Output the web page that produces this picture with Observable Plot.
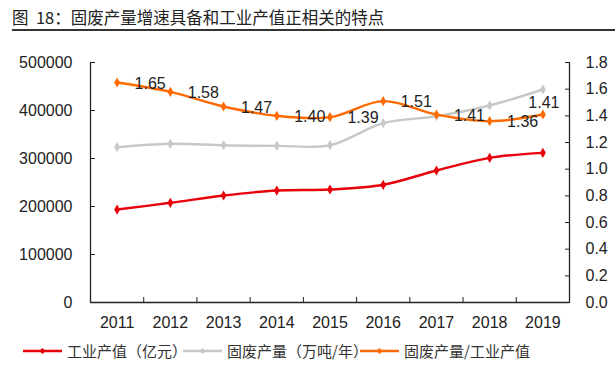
<!DOCTYPE html>
<html>
<head>
<meta charset="utf-8">
<script src="https://cdn.jsdelivr.net/npm/d3@7"></script>
<script src="https://cdn.jsdelivr.net/npm/@observablehq/plot@0.6"></script>
<style>
  body { margin: 0; background: #fff; font-family: "Liberation Sans", Arial, "Noto Sans CJK SC", sans-serif; }
  #wrap { position: relative; width: 615px; height: 365px; overflow: hidden; }
  #title { position: absolute; left: 12px; top: 0; width: 603px; height: 31px; border-bottom: 2px solid #333;
           font-size: 16.5px; line-height: 20px; padding-top: 7px; box-sizing: border-box; color: #222;
           font-family: "Noto Sans CJK SC", "Liberation Sans", sans-serif; white-space: nowrap; }
  #chart { position: absolute; left: 0; top: 38px; }
  #legend { position: absolute; top: 341px; left: 0; width: 615px; height: 20px; font-size: 15px; color: #333;
            font-family: "Noto Sans CJK SC", sans-serif; white-space: nowrap; }
  .item { position: absolute; top: 0; height: 20px; line-height: 20px; display: flex; align-items: center; }
  .item svg { margin-right: 5px; }
</style>
</head>
<body>
<div id="wrap">
  <div id="title">图&nbsp; 18：固废产量增速具备和工业产值正相关的特点</div>
  <div id="chart"></div>
  <div id="legend"></div>
</div>
<script>
const years = [2011, 2012, 2013, 2014, 2015, 2016, 2017, 2018, 2019];
const industry = [193700, 207700, 222900, 233300, 235400, 245200, 275000, 301400, 311800];
const waste = [323500, 330600, 327700, 326400, 327700, 373600, 388100, 410400, 443750];
const ratio = [1.65, 1.58, 1.47, 1.40, 1.39, 1.51, 1.41, 1.36, 1.41];
const leftTicks = [0, 100000, 200000, 300000, 400000, 500000];
const rightTicks = [0, 0.2, 0.4, 0.6, 0.8, 1.0, 1.2, 1.4, 1.6, 1.8];
const seriesNames = ["工业产值（亿元）", "固废产量（万吨/年）", "固废产量/工业产值"];
const colors = ["#e8000b", "#c8c8c8", "#ff6a00"];

const K = 500000 / 1.8;
const xDomain = [years[0] - 0.5, years[years.length - 1] + 0.5];
const boundaries = years.slice(0, -1).map(y => y + 0.5);

const rows = years.map((y, i) => ({year: y, industry: industry[i], waste: waste[i], ratio: ratio[i], ratioScaled: ratio[i] * K}));
const lastRow = rows.slice(-1);
const otherRows = rows.slice(0, -1);

const lineOpts = {curve: "catmull-rom", strokeWidth: 2.4};
const dotOpts = {symbol: "diamond", r: 3.1};
const fontFamily = '"Liberation Sans", Arial, sans-serif';

const plot = Plot.plot({
  width: 615,
  height: 300,
  marginLeft: 90,
  marginRight: 46,
  marginTop: 24,
  marginBottom: 36,
  style: {fontFamily, fontSize: "16px", color: "#222", background: "transparent"},
  x: {domain: xDomain, axis: null, label: null},
  y: {domain: [0, 500000], axis: null, label: null},
  marks: [
    Plot.axisY(leftTicks, {anchor: "left", label: null, tickSize: -5, tickPadding: 23, tickFormat: d3.format("d"), fontSize: 16, stroke: "#222", fill: "#222"}),
    Plot.axisY(rightTicks.map(v => v * K), {anchor: "right", label: null, tickSize: -5, tickPadding: 21, tickFormat: d => (d / K).toFixed(1), fontSize: 16, stroke: "#222", fill: "#222"}),
    Plot.axisX(boundaries, {anchor: "bottom", label: null, tickSize: -5, tickFormat: () => "", stroke: "#222"}),
    Plot.axisX(years, {anchor: "bottom", label: null, tickSize: 0, tickPadding: 14, tickFormat: d => String(d), fontSize: 16, fill: "#222"}),
    Plot.ruleX(xDomain, {y1: 0, y2: 500000, stroke: "#222", strokeWidth: 1.3}),
    Plot.ruleY([0], {stroke: "#222", strokeWidth: 1.3}),
    Plot.line(rows, {x: "year", y: "waste", stroke: colors[1], ...lineOpts}),
    Plot.dot(rows, {x: "year", y: "waste", fill: colors[1], ...dotOpts}),
    Plot.line(rows, {x: "year", y: "industry", stroke: colors[0], ...lineOpts}),
    Plot.dot(rows, {x: "year", y: "industry", fill: colors[0], ...dotOpts}),
    Plot.line(rows, {x: "year", y: "ratioScaled", stroke: colors[2], ...lineOpts}),
    Plot.dot(rows, {x: "year", y: "ratioScaled", fill: colors[2], ...dotOpts}),
    Plot.text(otherRows, {x: "year", y: "ratioScaled", text: d => d.ratio.toFixed(2), dx: 33, dy: 1, fontSize: 16, fill: "#222"}),
    Plot.text(lastRow, {x: "year", y: "ratioScaled", text: d => d.ratio.toFixed(2), dx: 1, dy: -12, fontSize: 16, fill: "#222"})
  ]
});
document.getElementById("chart").appendChild(plot);

// legend
const legendLefts = [23, 183, 360];
const legend = document.getElementById("legend");
seriesNames.forEach((name, i) => {
  const item = document.createElement("div");
  item.className = "item";
  item.style.left = legendLefts[i] + "px";
  item.innerHTML = `<svg width="39" height="20"><line x1="0" y1="10" x2="39" y2="10" stroke="${colors[i]}" stroke-width="2.4"/><path d="M19.5,7L22.5,10L19.5,13L16.5,10Z" fill="${colors[i]}"/></svg><span>${name}</span>`;
  legend.appendChild(item);
});
</script>
</body>
</html>
